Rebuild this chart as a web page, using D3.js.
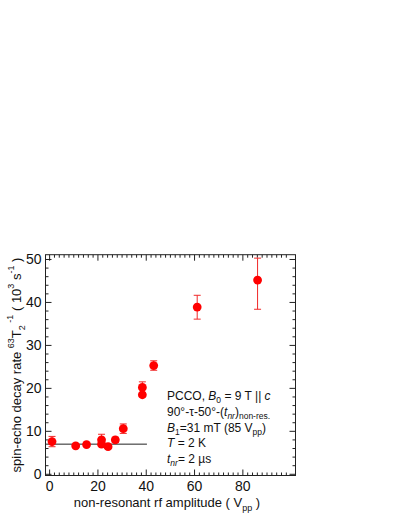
<!DOCTYPE html>
<html>
<head>
<meta charset="utf-8">
<script src="https://cdn.jsdelivr.net/npm/d3@7/dist/d3.min.js"></script>
<style>
  body { margin: 0; background: #fff; }
  svg { display: block; font-family: "Liberation Sans", Arial, Helvetica, sans-serif; }
</style>
</head>
<body>
<svg id="chart" width="402" height="520"></svg>
<script>
// ---- data ----
const amplitude = [1.2, 11, 15.5, 21.7, 21.7, 24.4, 27.4, 30.7, 38.6, 38.6, 43.3, 61.3, 86.3];
const decayRate = [7.5, 6.5, 6.8, 7.9, 6.9, 6.3, 7.9, 10.5, 20.1, 18.4, 25.2, 38.8, 45.1];
const errPlus   = [1.2, 0.4, 0.4, 1.3, 0.5, 0.4, 0.6, 1.1, 1.3, 0.5, 1.1, 2.75, 5.1];
const errMinus  = [1.2, 0.4, 0.4, 1.3, 0.5, 0.4, 0.6, 1.1, 1.3, 0.5, 1.1, 2.8, 6.8];
const baselineX = [-1.5, 40.5];
const baselineY = 6.9;
const xTicks = [0, 20, 40, 60, 80];
const yTicks = [0, 10, 20, 30, 40, 50];

const svg = d3.select("#chart");
const L = 45.5, R = 295.5, T = 254.7, B = 475.5;
const x = d3.scaleLinear().domain([-1.5, 102]).range([L, R]);
const y = d3.scaleLinear().domain([-0.4, 51.0]).range([B, T]);

const minorX = d3.range(0, 102, 2).filter(v => v % 20 !== 0);
const minorY = d3.range(0, 51, 2).filter(v => v % 10 !== 0);
const axColor = "#222";

function styleAxis(g) {
  g.select(".domain").remove();
  g.selectAll("line").attr("stroke", axColor).attr("stroke-width", 1);
}

// major ticks
svg.append("g").attr("transform", `translate(0,${B})`)
  .call(d3.axisBottom(x).tickValues(xTicks).tickSize(-6).tickPadding(6).tickFormat(d3.format("d")))
  .call(styleAxis)
  .call(g => g.selectAll("text").attr("font-size", 14).attr("fill", "#111").attr("font-family", "Liberation Sans, Arial, sans-serif"));
svg.append("g").attr("transform", `translate(0,${T})`)
  .call(d3.axisTop(x).tickValues(xTicks).tickSize(-6).tickFormat(""))
  .call(styleAxis);
svg.append("g").attr("transform", `translate(${L},0)`)
  .call(d3.axisLeft(y).tickValues(yTicks).tickSize(-6).tickPadding(4).tickFormat(d3.format("d")))
  .call(styleAxis)
  .call(g => g.selectAll("text").attr("font-size", 14).attr("fill", "#111").attr("font-family", "Liberation Sans, Arial, sans-serif"));
svg.append("g").attr("transform", `translate(${R},0)`)
  .call(d3.axisRight(y).tickValues(yTicks).tickSize(-6).tickFormat(""))
  .call(styleAxis);
// minor ticks
svg.append("g").attr("transform", `translate(0,${B})`)
  .call(d3.axisBottom(x).tickValues(minorX).tickSize(-3).tickFormat("")).call(styleAxis);
svg.append("g").attr("transform", `translate(0,${T})`)
  .call(d3.axisTop(x).tickValues(minorX).tickSize(-3).tickFormat("")).call(styleAxis);
svg.append("g").attr("transform", `translate(${L},0)`)
  .call(d3.axisLeft(y).tickValues(minorY).tickSize(-3).tickFormat("")).call(styleAxis);
svg.append("g").attr("transform", `translate(${R},0)`)
  .call(d3.axisRight(y).tickValues(minorY).tickSize(-3).tickFormat("")).call(styleAxis);

// frame
svg.append("rect").attr("x", L).attr("y", T).attr("width", R - L).attr("height", B - T)
  .attr("fill", "none").attr("stroke", axColor).attr("stroke-width", 1);

// baseline
svg.append("line")
  .attr("x1", x(baselineX[0])).attr("x2", x(baselineX[1]))
  .attr("y1", y(baselineY)).attr("y2", y(baselineY))
  .attr("stroke", "#222").attr("stroke-width", 1);

// data
const pts = amplitude.map((a, i) => ({ a, v: decayRate[i], hi: decayRate[i] + errPlus[i], lo: decayRate[i] - errMinus[i] }));
const eb = svg.append("g").attr("stroke", "#f02828").attr("stroke-width", 1);
pts.forEach(p => {
  eb.append("line").attr("x1", x(p.a)).attr("x2", x(p.a)).attr("y1", y(p.hi)).attr("y2", y(p.lo));
  eb.append("line").attr("x1", x(p.a) - 3.5).attr("x2", x(p.a) + 3.5).attr("y1", y(p.hi)).attr("y2", y(p.hi));
  eb.append("line").attr("x1", x(p.a) - 3.5).attr("x2", x(p.a) + 3.5).attr("y1", y(p.lo)).attr("y2", y(p.lo));
});
svg.append("g").selectAll("circle").data(pts).join("circle")
  .attr("cx", d => x(d.a)).attr("cy", d => y(d.v)).attr("r", 4.4).attr("fill", "#ff0000");

// x axis title
const xt = svg.append("text").attr("x", 167).attr("y", 507).attr("text-anchor", "middle")
  .attr("font-size", 13).attr("fill", "#111");
xt.append("tspan").text("non-resonant rf amplitude ( V");
xt.append("tspan").attr("font-size", 9).attr("dy", 4).text("pp");
xt.append("tspan").attr("dy", -4).text(" )");

// y axis title
const yt = svg.append("text").attr("transform", "translate(21,365) rotate(-90)")
  .attr("text-anchor", "middle").attr("font-size", 13).attr("fill", "#111");
yt.append("tspan").text("spin-echo decay rate ");
yt.append("tspan").attr("font-size", 9).attr("dy", -7).text("63");
yt.append("tspan").attr("dy", 7).text("T");
yt.append("tspan").attr("font-size", 9).attr("dy", 4).text("2");
yt.append("tspan").attr("font-size", 9).attr("dy", -12).text(" -1");
yt.append("tspan").attr("dy", 8).text(" ( 10");
yt.append("tspan").attr("font-size", 9).attr("dy", -7).text("3");
yt.append("tspan").attr("dy", 7).text(" s");
yt.append("tspan").attr("font-size", 9).attr("dy", -7).text("-1");
yt.append("tspan").attr("dy", 7).text(" )");

// annotation
const ax0 = 167, fs = 12, subFs = 8.5;
function line(yy) {
  return svg.append("text").attr("x", ax0).attr("y", yy).attr("font-size", fs).attr("fill", "#111");
}
let t1 = line(400);
t1.append("tspan").text("PCCO, ");
t1.append("tspan").attr("font-style", "italic").text("B");
t1.append("tspan").attr("font-size", subFs).attr("dy", 3).text("0");
t1.append("tspan").attr("dy", -3).text(" = 9 T || ");
t1.append("tspan").attr("font-style", "italic").text("c");

let t2 = line(416);
t2.append("tspan").text("90°-τ-50°-(");
t2.append("tspan").attr("font-style", "italic").text("t");
t2.append("tspan").attr("font-style", "italic").attr("font-size", subFs).attr("dy", 3).text("nr");
t2.append("tspan").attr("dy", -3).text(")");
t2.append("tspan").attr("font-size", subFs).attr("dy", 3).text("non-res.");

let t3 = line(431.5);
t3.append("tspan").attr("font-style", "italic").text("B");
t3.append("tspan").attr("font-size", subFs).attr("dy", 3).text("1");
t3.append("tspan").attr("dy", -3).text("=31 mT (85 V");
t3.append("tspan").attr("font-size", subFs).attr("dy", 3).text("pp");
t3.append("tspan").attr("dy", -3).text(")");

let t4 = line(447);
t4.append("tspan").attr("font-style", "italic").text("T");
t4.append("tspan").text(" = 2 K");

let t5 = line(462.5);
t5.append("tspan").attr("font-style", "italic").text("t");
t5.append("tspan").attr("font-style", "italic").attr("font-size", subFs).attr("dy", 3).text("nr");
t5.append("tspan").attr("dy", -3).text("= 2 µs");
</script>
</body>
</html>
